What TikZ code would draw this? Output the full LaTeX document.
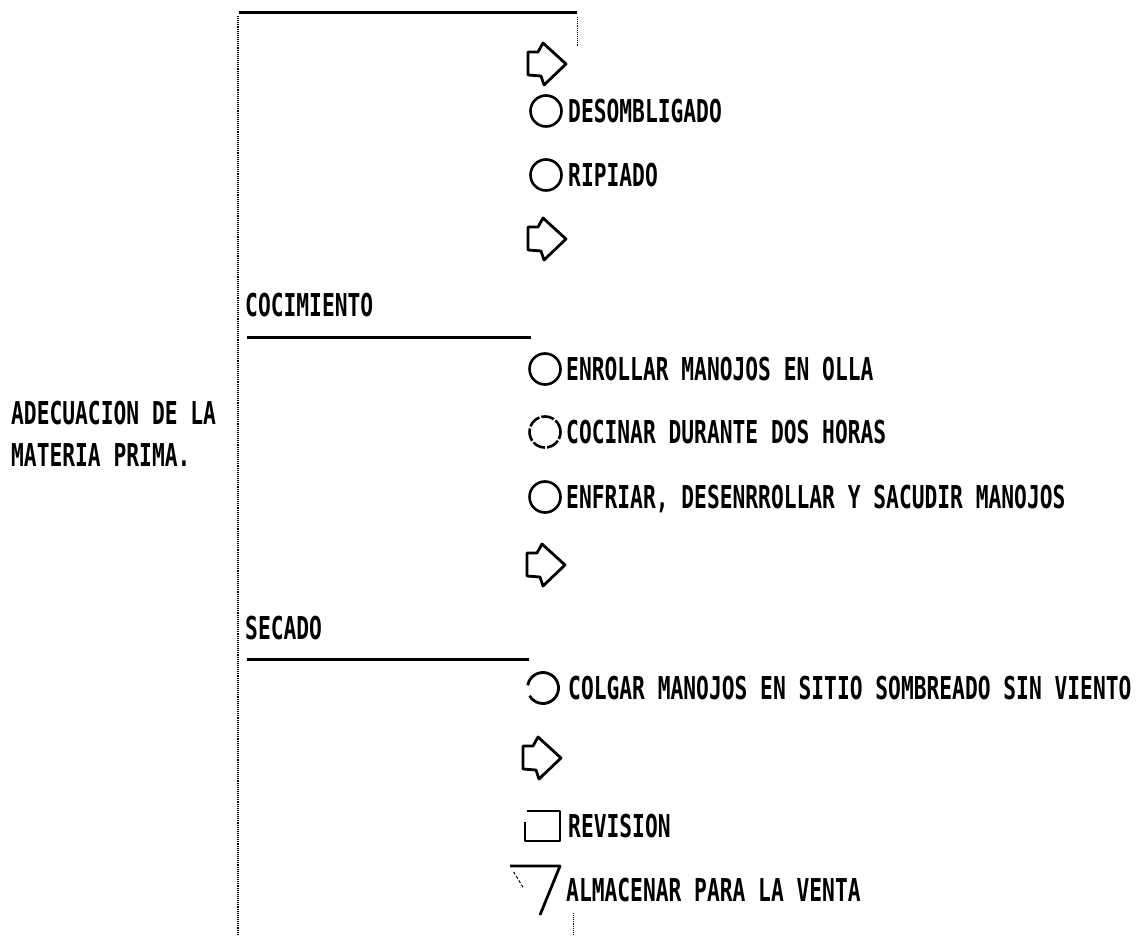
\documentclass[tikz,border=0pt]{standalone}
\usepackage{fontspec}
\usetikzlibrary{calc}
\newfontfamily\dotfont{DejaVu Sans Mono}[FakeStretch=0.675]
\tikzset{
  lbl/.style={anchor=west, inner sep=0pt, text height=23pt, text depth=0pt,
    font=\dotfont\bfseries\fontsize{31.5}{32}\selectfont},
  opcircle/.style={draw, circle, line width=2.6pt, minimum size=31pt, inner sep=0pt},
  rulebar/.style={line width=3pt},
  guide/.style={densely dotted, line width=1.1pt},
  symline/.style={line width=2.8pt, line join=round},
  pics/flowarrow/.style={code={
    \draw[symline] (-19,-11) -- (-9,-11) -- (-4,-20) -- (19,1) -- (-3,22) -- (-6,13) -- (-19,12) -- cycle;}}
}
\begin{document}
\begin{tikzpicture}[x=1pt,y=-1pt]
\useasboundingbox (0,0) rectangle (1143,936);

% frame lines
\coordinate (topL) at (239,13);
\coordinate (topR) at (577,13);
\draw[rulebar] (topL) -- (topR);
\coordinate (vTop) at (238,16);
\coordinate (vBot) at (238,936);
\draw[guide] (vTop) -- (vBot);
\coordinate (rTop) at (577,17);
\coordinate (rBot) at (577,46);
\draw[guide, line width=0.9pt] (rTop) -- (rBot);
\coordinate (bTop) at (573,913);
\coordinate (bBot) at (573,936);
\draw[guide, line width=0.9pt] (bTop) -- (bBot);

% left label
\node[lbl] (adec1) at (11,413) {ADECUACION DE LA};
\node[lbl] (adec2) at (11,455) {MATERIA PRIMA.};

% first block
\pic (arrA) at (547,63) {flowarrow};
\node[opcircle] (cDes) at (546,111) {};
\node[lbl] (tDes) at (568,111) {DESOMBLIGADO};
\node[opcircle] (cRip) at (546,175) {};
\node[lbl] (tRip) at (568,175) {RIPIADO};
\pic (arrB) at (547,238) {flowarrow};

% cocimiento
\node[lbl] (tCoc) at (245,305) {COCIMIENTO};
\coordinate (cocL) at (247,337);
\coordinate (cocR) at (531,337);
\draw[rulebar] (cocL) -- (cocR);
\node[opcircle] (cEnr) at (545,369) {};
\node[lbl] (tEnr) at (566,369) {ENROLLAR MANOJOS EN OLLA};
\node[opcircle, dash pattern=on 13pt off 2pt] (cCoc) at (545,432) {};
\node[lbl] (tCocinar) at (566,432) {COCINAR DURANTE DOS HORAS};
\node[opcircle] (cEnf) at (545,497) {};
\node[lbl] (tEnf) at (566,497) {ENFRIAR, DESENRROLLAR Y SACUDIR MANOJOS};
\pic (arrC) at (546,564) {flowarrow};

% secado
\node[lbl] (tSec) at (245,628) {SECADO};
\coordinate (secL) at (247,659);
\coordinate (secR) at (529,659);
\draw[rulebar] (secL) -- (secR);
\node[circle, minimum size=31pt, inner sep=0pt] (cCol) at (543,688) {};
\draw[symline] (cCol.center) ++(150:15.5) arc[start angle=150, end angle=-170, radius=15.5];
\node[lbl] (tCol) at (568,688) {COLGAR MANOJOS EN SITIO SOMBREADO SIN VIENTO};
\pic (arrD) at (542,757) {flowarrow};

% revision
\coordinate (sqA) at (525,822);
\coordinate (sqB) at (525,841);
\coordinate (sqC) at (560,841);
\coordinate (sqD) at (560,811);
\coordinate (sqE) at (527,811);
\draw[symline] (sqA) -- (sqB) -- (sqC) -- (sqD) -- (sqE);
\node[lbl] (tRev) at (568,826) {REVISION};

% almacenar
\coordinate (trL) at (510,866);
\coordinate (trR) at (560,866);
\coordinate (trV) at (540,915);
\draw[symline] (trL) -- (trR) -- (trV);
\draw[line width=1pt, densely dashed] ($(trL)!0.12!(trV)$) -- ($(trL)!0.45!(trV)$);
\node[lbl] (tAlm) at (566,890) {ALMACENAR PARA LA VENTA};
\end{tikzpicture}
\end{document}
